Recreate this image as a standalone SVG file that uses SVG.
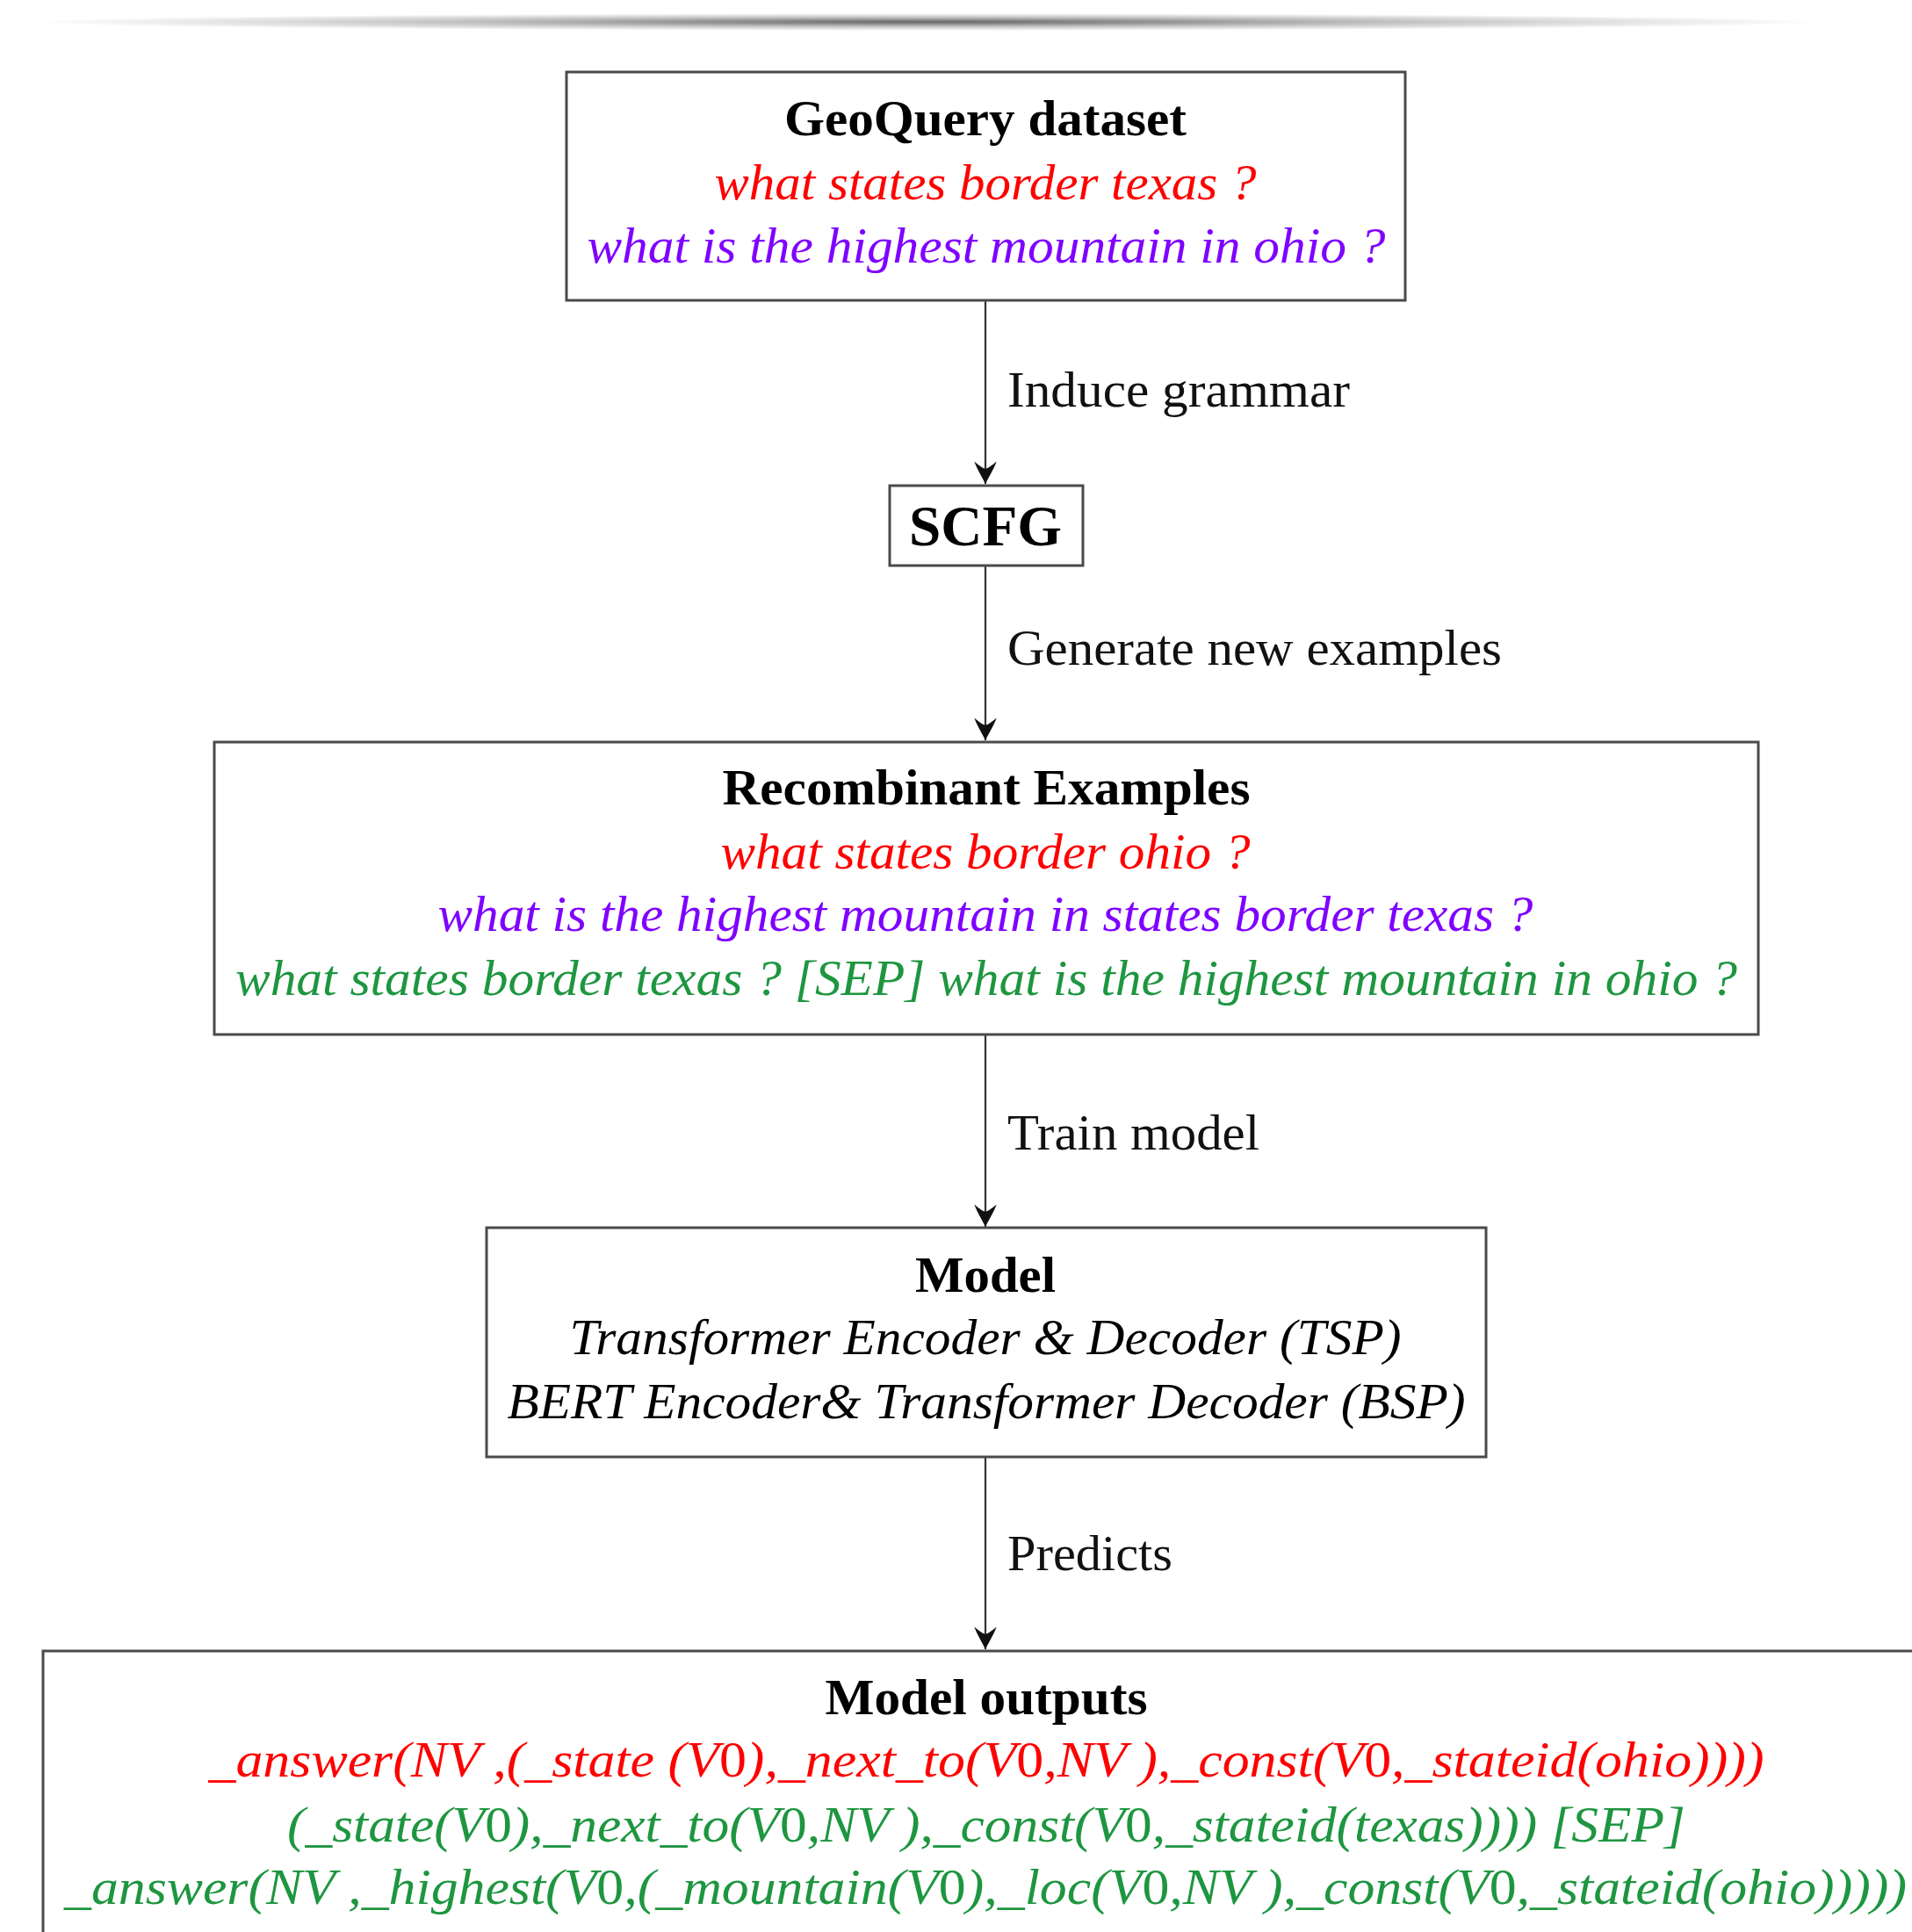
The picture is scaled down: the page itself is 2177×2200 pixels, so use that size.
<svg xmlns="http://www.w3.org/2000/svg" width="2177" height="2200" viewBox="0 0 2177 2200">
<style>
  .box { fill: #ffffff; stroke: #4a4a4a; stroke-width: 3; }
  .t { font-family: "Liberation Serif", "Times New Roman", serif; font-size: 58px; text-anchor: middle; }
  .b { font-weight: bold; fill: #000; }
  .i { font-style: italic; }
  .red { fill: #ff0000; }
  .pur { fill: #7f00ff; }
  .grn { fill: #1e9640; }
  .blk { fill: #000; }
  .lbl { font-family: "Liberation Serif", "Times New Roman", serif; font-size: 58px; fill: #111; }
  .edge { stroke: #333; stroke-width: 2.2; fill: none; marker-end: url(#arr); }
  .up { font-style: normal; }
</style>
<defs>
  <radialGradient id="shadow" cx="0.5" cy="0.5" r="0.5">
    <stop offset="0" stop-color="#000" stop-opacity="0.6"/>
    <stop offset="0.5" stop-color="#000" stop-opacity="0.25"/>
    <stop offset="1" stop-color="#000" stop-opacity="0"/>
  </radialGradient>
  <marker id="arr" markerUnits="userSpaceOnUse" markerWidth="30" markerHeight="30" viewBox="-24 -13 26 26" refX="0" refY="0" orient="auto">
    <path d="M0,0 C-6,-3 -14,-8 -22,-11 C-17,-5 -15,-2 -15,0 C-15,2 -17,5 -22,11 C-14,8 -6,3 0,0 Z" fill="#111"/>
  </marker>
</defs>
<rect width="2177" height="2200" fill="#ffffff"/>
<ellipse cx="1055" cy="25" rx="1020" ry="10" fill="url(#shadow)"/>

<g id="connectors">
  <line class="edge" x1="1122" y1="343" x2="1122" y2="551"/>
  <line class="edge" x1="1122" y1="644" x2="1122" y2="843"/>
  <line class="edge" x1="1122" y1="1178" x2="1122" y2="1397"/>
  <line class="edge" x1="1122" y1="1660" x2="1122" y2="1878"/>
  <text class="lbl" x="1147" y="463" textLength="390" lengthAdjust="spacingAndGlyphs">Induce grammar</text>
  <text class="lbl" x="1147" y="757" textLength="563" lengthAdjust="spacingAndGlyphs">Generate new examples</text>
  <text class="lbl" x="1147" y="1309" textLength="287" lengthAdjust="spacingAndGlyphs">Train model</text>
  <text class="lbl" x="1147" y="1788" textLength="188" lengthAdjust="spacingAndGlyphs">Predicts</text>
</g>

<g id="geoquery">
  <rect class="box" x="645" y="82" width="955" height="260"/>
  <text class="t b" x="1122" y="154" textLength="458" lengthAdjust="spacingAndGlyphs">GeoQuery dataset</text>
  <text class="t i red" x="1122" y="227" textLength="617" lengthAdjust="spacingAndGlyphs">what states border texas ?</text>
  <text class="t i pur" x="1123" y="299" textLength="909" lengthAdjust="spacingAndGlyphs">what is the highest mountain in ohio ?</text>
</g>

<g id="scfg">
  <rect class="box" x="1013" y="553" width="220" height="91"/>
  <text class="t b" x="1122" y="621" style="font-size:66px" textLength="174" lengthAdjust="spacingAndGlyphs">SCFG</text>
</g>

<g id="recombinant">
  <rect class="box" x="244" y="845" width="1758" height="333"/>
  <text class="t b" x="1123" y="916" textLength="601" lengthAdjust="spacingAndGlyphs">Recombinant Examples</text>
  <text class="t i red" x="1122" y="989" textLength="603" lengthAdjust="spacingAndGlyphs">what states border ohio ?</text>
  <text class="t i pur" x="1122" y="1060" textLength="1247" lengthAdjust="spacingAndGlyphs">what is the highest mountain in states border texas ?</text>
  <text class="t i grn" x="1123" y="1133" textLength="1710" lengthAdjust="spacingAndGlyphs">what states border texas ? [SEP] what is the highest mountain in ohio ?</text>
</g>

<g id="model">
  <rect class="box" x="554" y="1398" width="1138" height="261"/>
  <text class="t b" x="1122" y="1471" textLength="160" lengthAdjust="spacingAndGlyphs">Model</text>
  <text class="t i blk" x="1122" y="1542" textLength="947" lengthAdjust="spacingAndGlyphs">Transformer Encoder &amp; Decoder (TSP)</text>
  <text class="t i blk" x="1123" y="1615" textLength="1091" lengthAdjust="spacingAndGlyphs">BERT Encoder&amp; Transformer Decoder (BSP)</text>
</g>

<g id="model-outputs">
  <rect class="box" x="49" y="1880" width="2200" height="400"/>
  <text class="t b" x="1123" y="1952" textLength="367" lengthAdjust="spacingAndGlyphs">Model outputs</text>
  <text class="t i red" x="1123" y="2023" textLength="1771" lengthAdjust="spacingAndGlyphs">_answer(NV ,(_state (V<tspan class="up">0</tspan>),_next_to(V<tspan class="up">0</tspan>,NV ),_const(V<tspan class="up">0</tspan>,_stateid(ohio))))</text>
  <text class="t i grn" x="1123" y="2097" textLength="1592" lengthAdjust="spacingAndGlyphs">(_state(V<tspan class="up">0</tspan>),_next_to(V<tspan class="up">0</tspan>,NV ),_const(V<tspan class="up">0</tspan>,_stateid(texas)))) [SEP]</text>
  <text class="t i grn" x="1122" y="2168" textLength="2098" lengthAdjust="spacingAndGlyphs">_answer(NV ,_highest(V<tspan class="up">0</tspan>,(_mountain(V<tspan class="up">0</tspan>),_loc(V<tspan class="up">0</tspan>,NV ),_const(V<tspan class="up">0</tspan>,_stateid(ohio)))))</text>
</g>
</svg>
